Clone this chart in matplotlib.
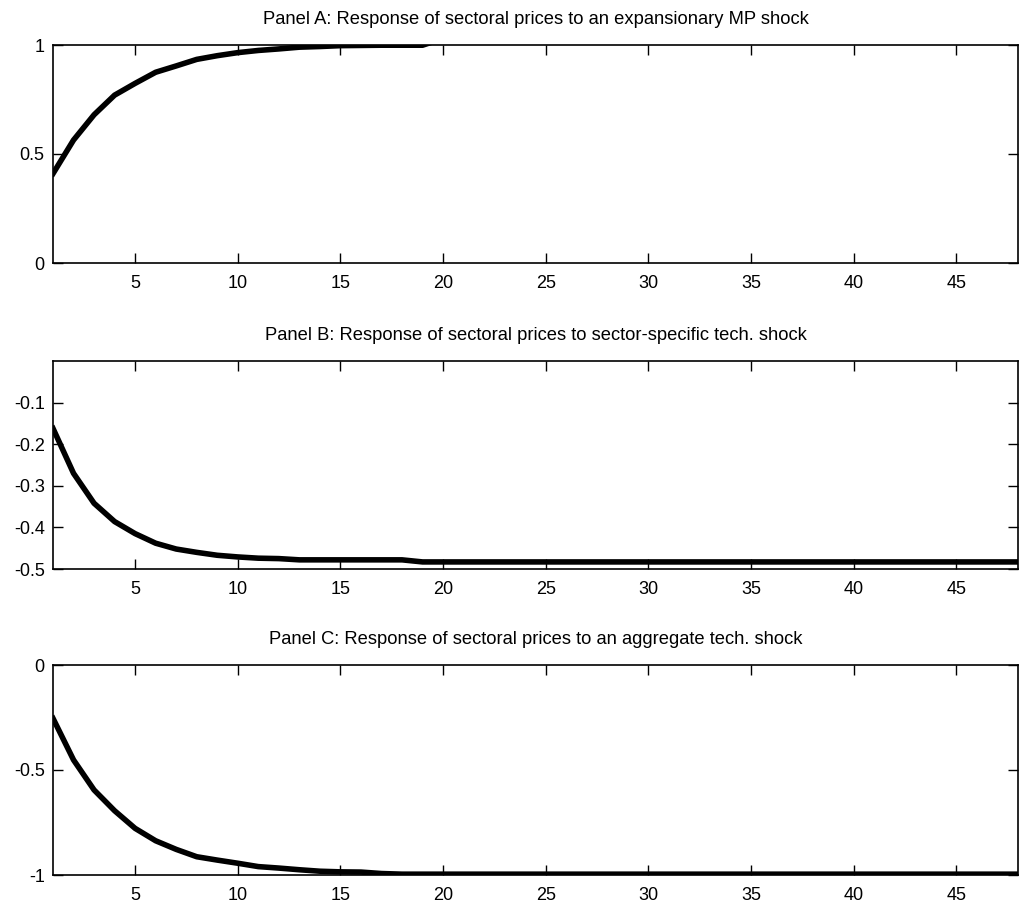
import matplotlib
matplotlib.use("Agg")
import matplotlib.pyplot as plt
import numpy as np

plt.rcParams['font.family'] = ['Liberation Sans', 'DejaVu Sans']

# impulse responses, periods 1..48
periods = np.arange(1, 49)

resp_mp = [0.41, 0.564, 0.68, 0.77, 0.824, 0.875, 0.904, 0.934, 0.951, 0.965,
           0.975, 0.982, 0.99, 0.993, 0.997, 0.998, 0.999, 0.999, 0.999] + [1.03] * 29

resp_sector = [-0.162, -0.27, -0.342, -0.386, -0.415, -0.438, -0.452, -0.46, -0.467, -0.471,
               -0.474, -0.475, -0.478, -0.478, -0.478, -0.478, -0.478, -0.478] + [-0.483] * 30

resp_agg = [-0.254, -0.452, -0.595, -0.694, -0.778, -0.837, -0.878, -0.913, -0.929, -0.944,
            -0.96, -0.967, -0.975, -0.982, -0.985, -0.986, -0.993] + [-0.996] * 31

titles = ['Panel A: Response of sectoral prices to an expansionary MP shock',
          'Panel B: Response of sectoral prices to sector-specific tech. shock',
          'Panel C: Response of sectoral prices to an aggregate tech. shock']
ylims = [(0, 1), (-0.5, 0), (-1, 0)]
yticks = [[0, 0.5, 1], [-0.5, -0.4, -0.3, -0.2, -0.1], [-1, -0.5, 0]]
yticklabels = [['0', '0.5', '1'], ['-0.5', '-0.4', '-0.3', '-0.2', '-0.1'], ['-1', '-0.5', '0']]
xticks = [5, 10, 15, 20, 25, 30, 35, 40, 45]

W, H = 1021, 909
fig = plt.figure(figsize=(W / 100, H / 100), dpi=100)

# axes boxes in pixels: left, top, right, bottom
boxes = [(53, 45, 1018, 263), (53, 361, 1018, 569), (53, 665, 1018, 875)]

for box, y, t, yl, yt, ytl in zip(boxes, [resp_mp, resp_sector, resp_agg], titles,
                                  ylims, yticks, yticklabels):
    l, tp, r, b = box
    ax = fig.add_axes([l / W, 1 - b / H, (r - l) / W, (b - tp) / H])
    ax.plot(periods, y, color='black', lw=4, solid_joinstyle='round')
    ax.set_xlim(1, 48)
    ax.set_ylim(*yl)
    ax.set_xticks(xticks)
    ax.set_yticks(yt)
    ax.set_yticklabels(ytl)
    ax.tick_params(direction='in', length=7, width=1, top=True, right=True,
                   labelsize=13, pad=6)
    ax.tick_params(axis='x', pad=9)
    for s in ax.spines.values():
        s.set_linewidth(1.2)
    ax.set_title(t, fontsize=13.2, pad=15)

fig.savefig('out.png', dpi=100)
